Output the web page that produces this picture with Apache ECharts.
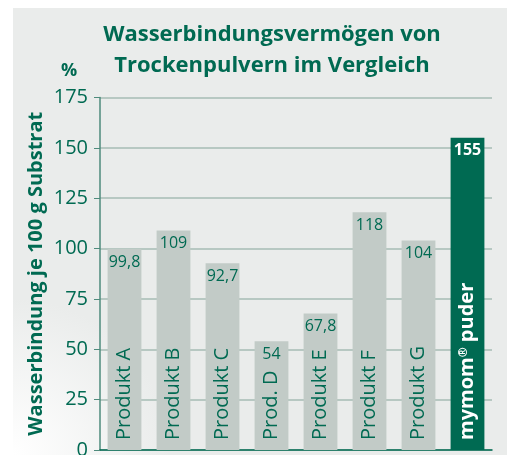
<!DOCTYPE html>
<html>
<head>
<meta charset="utf-8">
<script src="https://cdn.jsdelivr.net/npm/echarts@6/dist/echarts.min.js"></script>
<style>
  html, body { margin: 0; padding: 0; background: #fff; }
  #main { width: 507px; height: 455px; }
</style>
</head>
<body>
<div id="main"></div>
<script>
// data
var categories = ['Produkt A', 'Produkt B', 'Produkt C', 'Prod. D', 'Produkt E', 'Produkt F', 'Produkt G', 'mymom® puder'];
var values = [99.8, 109, 92.7, 54, 67.8, 118, 104, 155];
var yTicks = { min: 0, max: 175, step: 25 };

var green = '#006a52';
var grey = '#c2cbc7';
var font = '"Open Sans", "Noto Sans", sans-serif';

function deNum(v) { return String(v).replace('.', ','); }

var barData = values.map(function (v, i) {
  var last = i === values.length - 1;
  return {
    value: v,
    itemStyle: { color: last ? green : grey },
    label: last ? { color: '#fff', fontWeight: 'bold' } : {}
  };
});

var nameData = values.map(function (v, i) {
  var last = i === values.length - 1;
  return {
    value: v,
    label: last ? {
      formatter: '{b|mymom}{s|®}{b| puder}',
      rich: {
        b: { color: '#fff', fontWeight: 'bold', fontSize: 20, fontFamily: font },
        s: { color: '#fff', fontWeight: 'bold', fontSize: 12, fontFamily: font, verticalAlign: 'top', padding: [0, 0, 8, 0] }
      }
    } : {}
  };
});

var chart = echarts.init(document.getElementById('main'));
chart.setOption({
  animation: false,
  backgroundColor: '#ffffff',
  graphic: [
    {
      type: 'rect', z: -10, silent: true,
      shape: { x: 13, y: 8, width: 494, height: 447 },
      style: {
        fill: {
          type: 'radial', x: 0, y: 1, r: 0.35,
          colorStops: [{ offset: 0, color: '#ffffff' }, { offset: 1, color: '#eaeceb' }]
        }
      }
    },
    {
      type: 'text', left: 61, top: 62,
      style: { text: '%', fill: green, fontSize: 18, fontWeight: 'bold', fontFamily: font }
    }
  ],
  title: {
    text: 'Wasserbindungsvermögen von\nTrockenpulvern im Vergleich',
    left: 267, top: 14, textAlign: 'center',
    textStyle: { color: green, fontSize: 22, fontWeight: 'bold', fontFamily: font, lineHeight: 31 }
  },
  grid: { left: 100, right: 15, top: 97.5, bottom: 5, containLabel: false, outerBoundsMode: 'none' },
  xAxis: {
    type: 'category',
    data: categories,
    axisLine: { lineStyle: { color: green, width: 1.5 } },
    axisTick: { show: false },
    axisLabel: { show: false }
  },
  yAxis: {
    type: 'value',
    min: yTicks.min, max: yTicks.max, interval: yTicks.step,
    name: 'Wasserbindung je 100 g Substrat',
    nameLocation: 'middle', nameRotate: 90, nameGap: 54, nameMoveOverlap: false,
    nameTextStyle: { color: green, fontSize: 20, fontWeight: 'bold', fontFamily: font },
    axisLine: { show: true, lineStyle: { color: '#4e8b7c', width: 1.5 } },
    axisTick: { show: true, length: 6, lineStyle: { color: '#4e8b7c' } },
    axisLabel: { color: green, fontSize: 20, fontFamily: font, margin: 12 },
    splitLine: { lineStyle: { color: '#a6bcb4', width: 1.5 } }
  },
  series: [
    {
      type: 'bar',
      data: barData,
      barWidth: '69%',
      barGap: '-100%',
      label: {
        show: true, position: 'insideTop', distance: 5,
        color: green, fontSize: 16, fontFamily: font,
        formatter: function (p) { return deNum(p.value); }
      },
      silent: true
    },
    {
      type: 'bar',
      data: nameData,
      barWidth: '69%',
      itemStyle: { color: 'rgba(0,0,0,0)' },
      label: {
        show: true, position: 'insideBottom', distance: 10,
        rotate: 90, align: 'left', verticalAlign: 'middle',
        color: green, fontSize: 20, fontFamily: font,
        formatter: '{b}'
      },
      silent: true
    }
  ]
});
</script>
</body>
</html>
